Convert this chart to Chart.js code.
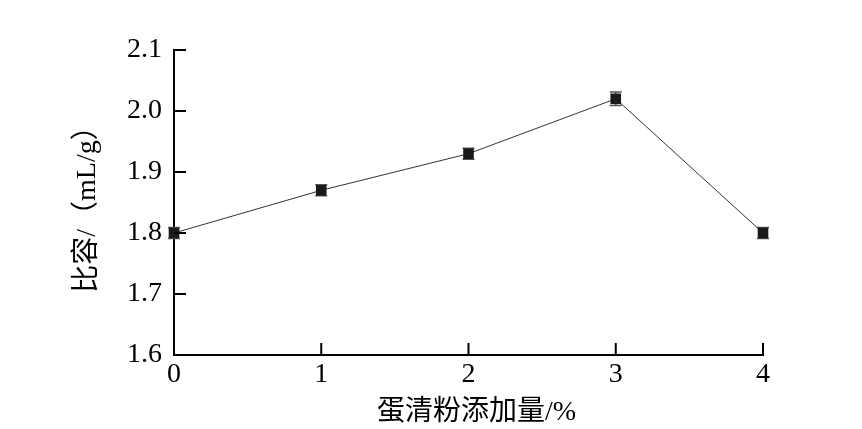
<!DOCTYPE html>
<html>
<head>
<meta charset="utf-8">
<script src="https://cdn.jsdelivr.net/npm/chart.js@4.4.0/dist/chart.umd.min.js"></script>
<style>
  html, body { margin: 0; padding: 0; background: #fff; }
  #wrap { width: 862px; height: 429px; }
</style>
</head>
<body>
<div id="wrap"><canvas id="c" width="862" height="429"></canvas></div>
<script>
// Data
const doses = [0, 1, 2, 3, 4];                       // egg white powder addition, %
const specificVolume = [1.80, 1.87, 1.93, 2.02, 1.80]; // mL/g
const errors = [0.009, 0.009, 0.009, 0.011, 0.009];
const xTicks = [0, 1, 2, 3, 4];
const yTicks = [1.6, 1.7, 1.8, 1.9, 2.0, 2.1];

const xTitle = '蛋清粉添加量/%';
const yTitle = '比容/（mL/g）';

const FONT = '"Liberation Serif", "Noto Sans CJK SC", serif';

// inward tick marks, error bars and axis titles
const extras = {
  id: 'extras',
  beforeDatasetsDraw(chart) {
    const ctx = chart.ctx;
    const xs = chart.scales.x, ys = chart.scales.y;
    ctx.save();
    // error bars, drawn under the markers
    ctx.strokeStyle = '#555';
    ctx.lineWidth = 1.5;
    doses.forEach((d, i) => {
      const px = xs.getPixelForValue(d);
      const top = ys.getPixelForValue(specificVolume[i] + errors[i]);
      const bot = ys.getPixelForValue(specificVolume[i] - errors[i]);
      ctx.beginPath();
      ctx.moveTo(px, top); ctx.lineTo(px, bot);
      ctx.moveTo(px - 6, top); ctx.lineTo(px + 6, top);
      ctx.moveTo(px - 6, bot); ctx.lineTo(px + 6, bot);
      ctx.stroke();
    });
    ctx.restore();
  },
  afterDraw(chart) {
    const ctx = chart.ctx;
    const xs = chart.scales.x, ys = chart.scales.y;
    const area = chart.chartArea;
    ctx.save();
    ctx.strokeStyle = '#000';
    ctx.lineWidth = 2;
    ctx.beginPath();
    yTicks.forEach(v => {
      const py = ys.getPixelForValue(v);
      ctx.moveTo(area.left, py); ctx.lineTo(area.left + 12, py);
    });
    xTicks.forEach(v => {
      const px = xs.getPixelForValue(v);
      ctx.moveTo(px, area.bottom); ctx.lineTo(px, area.bottom - 12);
    });
    ctx.stroke();

    ctx.fillStyle = '#000';
    ctx.font = '28px ' + FONT;
    ctx.textAlign = 'center';
    ctx.textBaseline = 'middle';
    ctx.fillText(xTitle, (area.left + area.right) / 2 + 8, 413);
    ctx.translate(88, (area.top + area.bottom) / 2);
    ctx.rotate(-Math.PI / 2);
    ctx.fillText(yTitle, 0, 0);
    ctx.restore();
  }
};

new Chart(document.getElementById('c'), {
  type: 'line',
  data: {
    datasets: [{
      data: doses.map((d, i) => ({ x: d, y: specificVolume[i] })),
      borderColor: '#333',
      borderWidth: 1,
      pointStyle: 'rect',
      pointRadius: 7.5,
      pointBackgroundColor: '#1a1a1a',
      pointBorderColor: '#1a1a1a',
      pointBorderWidth: 0,
      tension: 0,
      clip: false
    }]
  },
  options: {
    responsive: false,
    animation: false,
    layout: { padding: { top: 50, right: 99, left: 0, bottom: 0 } },
    plugins: { legend: { display: false }, tooltip: { enabled: false } },
    scales: {
      x: {
        type: 'linear',
        min: 0, max: 4,
        afterFit(scale) { scale.height = 74; },
        afterBuildTicks(scale) { scale.ticks = xTicks.map(v => ({ value: v })); },
        grid: { display: true, drawOnChartArea: false, drawTicks: false },
        border: { display: true, color: '#000', width: 2 },
        ticks: {
          color: '#000',
          padding: 3,
          font: { family: FONT, size: 28 },
          callback: v => String(v)
        }
      },
      y: {
        min: 1.6, max: 2.1,
        afterFit(scale) { scale.width = 174; },
        afterBuildTicks(scale) { scale.ticks = yTicks.map(v => ({ value: v })); },
        grid: { display: true, drawOnChartArea: false, drawTicks: false },
        border: { display: true, color: '#000', width: 2 },
        ticks: {
          color: '#000',
          padding: 12,
          font: { family: FONT, size: 28 },
          callback: v => v.toFixed(1)
        }
      }
    }
  },
  plugins: [extras]
});
</script>
</body>
</html>
